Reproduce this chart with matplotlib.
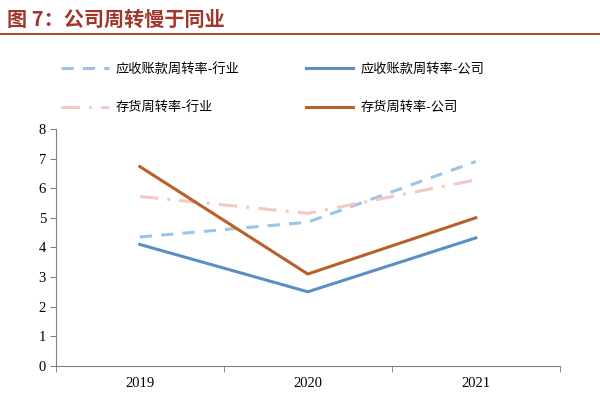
import matplotlib.pyplot as plt
import numpy as np

# 数据
years = ['2019', '2020', '2021']
ar_industry = [4.35, 4.85, 6.9]     # 应收账款周转率-行业
ar_company = [4.1, 2.5, 4.32]       # 应收账款周转率-公司
inv_industry = [5.72, 5.15, 6.28]   # 存货周转率-行业
inv_company = [6.73, 3.1, 5.0]      # 存货周转率-公司

plt.rcParams['font.family'] = ['Noto Sans CJK SC', 'DejaVu Sans']

fig = plt.figure(figsize=(6, 4.2), dpi=100)
ax = fig.add_axes([0.093, 0.129, 0.84, 0.564])

x = np.arange(len(years))
l1, = ax.plot(x, ar_industry, color='#9DC3E6', lw=2.2, ls=(0, (4, 3)))
l2, = ax.plot(x, ar_company, color='#5B8FC4', lw=2.2)
l3, = ax.plot(x, inv_industry, color='#F2C9C4', lw=2.2, ls=(0, (6, 3, 1, 3)))
l4, = ax.plot(x, inv_company, color='#B9602A', lw=2.2)

ax.set_xlim(-0.5, 2.5)
ax.set_ylim(0, 8)
ax.set_xticks(x)
ax.set_xticklabels(years, fontfamily='Liberation Serif', fontsize=10.5)
ax.set_xticks([-0.5, 0.5, 1.5, 2.5], minor=True)
ax.tick_params(axis='x', which='major', length=0, pad=8)
ax.tick_params(axis='x', which='minor', length=4, color='#808080')
ax.set_yticks(range(0, 9))
ax.set_yticklabels([str(i) for i in range(9)], fontfamily='Liberation Serif', fontsize=10.5)
ax.tick_params(axis='y', length=4, color='#808080', pad=3)
for s in ['top', 'right']:
    ax.spines[s].set_visible(False)
for s in ['left', 'bottom']:
    ax.spines[s].set_color('#808080')

# 图例按列填充，所以顺序为 l1, l3, l2, l4
leg = fig.legend([l1, l3, l2, l4],
                 ['应收账款周转率-行业', '存货周转率-行业', '应收账款周转率-公司', '存货周转率-公司'],
                 ncol=2, loc='upper left', bbox_to_anchor=(0.082, 0.878),
                 frameon=False, fontsize=9.5, handlelength=3.6, handletextpad=0.55,
                 columnspacing=5.0, labelspacing=1.9)

# 标题
fig.text(0.012, 0.955, '图 7：公司周转慢于同业', color='#A0372A',
         fontsize=14.5, fontweight='bold', va='center', ha='left')
fig.add_artist(plt.Line2D([0.0, 1.0], [0.92, 0.92], color='#A0522D', lw=1.5,
                          transform=fig.transFigure))

fig.savefig('out.png', dpi=100)
